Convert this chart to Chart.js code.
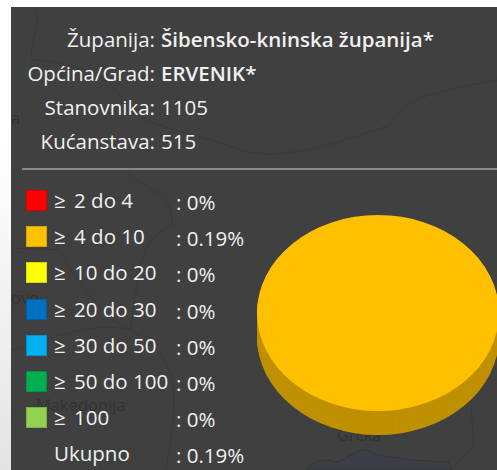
<!DOCTYPE html>
<html>
<head>
<meta charset="utf-8">
<title>Ervenik</title>
<script src="https://cdn.jsdelivr.net/npm/chart.js@4"></script>
<style>
    html, body { margin: 0; padding: 0; }
    body {
        width: 497px; height: 470px; overflow: hidden; position: relative;
        background: linear-gradient(#ffffff 30%, #e4e4e4);
        font-family: "Open Sans", sans-serif; font-size: 20.5px; color: #f0f0f0;
    }
    #panel { position: absolute; left: 11px; top: 7px; width: 486px; height: 463px; background: #404040; overflow: hidden; }
    .place { position: absolute; color: #333333; font-size: 16.5px; }
    .row { position: absolute; height: 36px; white-space: nowrap; }
    .sw { position: absolute; left: 26px; width: 21px; height: 21px; box-shadow: inset 0 0 0 1px rgba(0,0,0,.15); }
    .lab { position: absolute; left: 54px; }
    .lab i { font-style: normal; margin-right: 3px; }
    .val { position: absolute; left: 176px; }
    #rule { position: absolute; left: 22px; top: 168px; width: 475px; height: 2px; background: #8a8a8a; }
    canvas { position: absolute; left: 240px; top: 191px; }
    #abs { position: absolute; left: 0; top: 0; width: 497px; height: 470px; }
    b { font-weight: 600; }
</style>
</head>
<body>
<div id="panel"></div>
<div id="abs">
    <svg width="497" height="470" style="position:absolute;left:0;top:0" fill="none" stroke="#3a3a3a">
        <path d="M36 10C42 30 28 40 32 60C60 60 110 70 125 105C150 130 190 130 240 150C275 160 320 150 390 125C410 95 430 95 470 85L497 80"/>
        <path d="M128 170C140 190 175 190 172 225C135 240 140 280 130 330C165 350 180 370 172 430L166 470"/>
        <path d="M11 248L60 250C80 290 110 320 130 330M11 350C50 340 90 320 130 330"/>
        <path d="M472 405C470 430 478 440 470 450L450 470"/>
        <path d="M305 470C315 460 325 458 335 462C345 462 355 448 368 450C375 458 400 456 410 460L448 462L452 470Z" fill="#3b3e47" stroke="#363636"/>
    </svg>
    <span class="place" style="left:11px;top:106px">a</span>
    <span class="place" style="left:11px;top:286px">ovo</span>
    <span class="place" style="left:36px;top:393px">Makedonija</span>
    <span class="place" style="left:337px;top:423px">Grčka</span>
    <div id="rule"></div>
    <div id="info"></div>
    <div id="legend"></div>
</div>
<canvas id="pie" width="300" height="280"></canvas>
<script>
const infoKeys = ["Županija:", "Općina/Grad:", "Stanovnika:", "Kućanstava:"];
const infoVals = ["Šibensko-kninska županija*", "ERVENIK*", "1105", "515"];
const infoBold = [true, true, false, false];

const categories = ["≥ 2 do 4", "≥ 4 do 10", "≥ 10 do 20", "≥ 20 do 30", "≥ 30 do 50", "≥ 50 do 100", "≥ 100"];
const values = [0, 0.19, 0, 0, 0, 0, 0];
const colors = ["#ff0000", "#ffc000", "#ffff00", "#0070c0", "#00b0f0", "#00b050", "#92d050"];
const totalLabel = "Ukupno";
const totalValue = 0.19;

// top part
const info = document.getElementById("info");
infoKeys.forEach(function (k, i) {
    const top = 25 + i * 34;
    const key = document.createElement("div");
    key.style.cssText = "position:absolute;right:342px;top:" + top + "px;white-space:nowrap";
    key.textContent = k;
    const val = document.createElement("div");
    val.style.cssText = "position:absolute;left:161px;top:" + top + "px;white-space:nowrap";
    val.innerHTML = infoBold[i] ? "<b>" + infoVals[i] + "</b>" : infoVals[i];
    info.appendChild(key);
    info.appendChild(val);
});

// legend rows
const legend = document.getElementById("legend");
function addRow(i, label, value, color) {
    const top = 190 + i * 36.2;
    const row = document.createElement("div");
    row.className = "row";
    row.style.top = top + "px";
    row.style.left = "0";
    row.innerHTML = (color ? '<span class="sw" style="top:0;background:' + color + '"></span>' : "") +
        '<span class="lab" style="top:-4px">' + label.replace("≥", "<i>≥</i>") + "</span>" +
        '<span class="val" style="top:-2px">: ' + value + "%</span>";
    legend.appendChild(row);
}
categories.forEach(function (c, i) { addRow(i, c, values[i], colors[i]); });
addRow(7, totalLabel, totalValue, null);

// squash the pie and give it a rim
const pie3d = {
    id: "pie3d",
    beforeDatasetsDraw: function (chart) {
        const ctx = chart.ctx;
        const arcs = chart.getDatasetMeta(0).data;
        const cx = arcs[0].x, cy = arcs[0].y;
        const squash = 0.81, depth = 24;
        for (let d = depth; d >= 1; d--) {
            ctx.save();
            ctx.translate(cx, cy + d);
            ctx.scale(1, squash);
            ctx.translate(-cx, -cy);
            arcs.forEach(function (a) {
                if (a.circumference > 0) {
                    const o = a.options.backgroundColor;
                    a.options.backgroundColor = "#bf9000";
                    a.draw(ctx);
                    a.options.backgroundColor = o;
                }
            });
            ctx.restore();
        }
        ctx.save();
        ctx.translate(cx, cy);
        ctx.scale(1, squash);
        ctx.translate(-cx, -cy);
    },
    afterDatasetsDraw: function (chart) {
        chart.ctx.restore();
    }
};

new Chart(document.getElementById("pie").getContext("2d"), {
    type: "pie",
    data: {
        labels: categories,
        datasets: [{ data: values, backgroundColor: colors, borderWidth: 0 }]
    },
    options: {
        responsive: false,
        animation: false,
        layout: { padding: { left: 17, right: 41, top: 1, bottom: 37 } },
        plugins: { legend: { display: false }, tooltip: { enabled: false } }
    },
    plugins: [pie3d]
});
</script>
</body>
</html>
